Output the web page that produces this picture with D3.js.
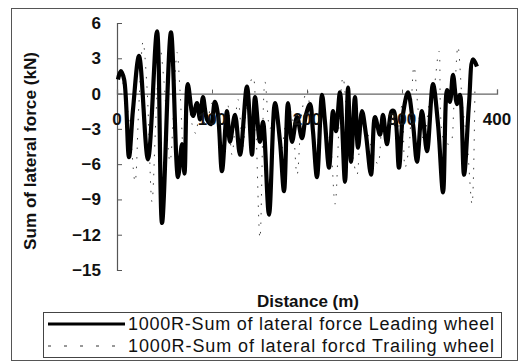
<!DOCTYPE html>
<html>
<head>
<meta charset="utf-8">
<script src="https://cdn.jsdelivr.net/npm/d3@7"></script>
<style>
  body { margin: 0; background: #fff; }
  svg { display: block; }
  text { font-family: "Liberation Sans", Arial, sans-serif; fill: #111; }
</style>
</head>
<body>
<div id="chart"></div>
<script>
// distance (m) and lateral force (kN)
var leadDist = [1, 4, 7.5, 12.6, 16.8, 23.2, 32.6, 42.1, 47.4, 56.8, 64.2, 68.4, 71, 74.5, 80, 84.2, 87.4, 90.5,
  94.7, 98.9, 103, 106.3, 110.5, 115.8, 118.9, 124.2, 129.5, 136.8, 142.1, 145.3, 150.5, 153.7, 160, 166.3,
  171.6, 175.8, 180, 184.2, 189.5, 194.7, 198.9, 203.2, 206.3, 210.5, 215.8, 218.9, 223.2, 227.4, 230.5,
  234.7, 240, 243.2, 246.3, 250.5, 253.7, 257.9, 262.1, 267.4, 271.6, 276.8, 280, 284.2, 289, 291.6, 296.8,
  301, 306.3, 311.6, 315.8, 321, 326.3, 332.6, 337.9, 343.2, 347.4, 350.5, 353.7, 357.9, 361, 365.3, 370.5,
  374.7, 378.9];
var leadForce = [1.2, 1.9, 1.2, -5.4, -1.4, 3.2, -5.6, 5.3, -11, 5.2, -7.1, -4.3, -6.8, 0.8, -1.9, -0.8, -2.2, -0.3,
  -2.2, -2.6, -0.7, -1.8, -6.6, -1.5, -4.1, -1.8, -5.2, 0.6, -5.2, -0.3, -4.1, -2.4, -10.3, -0.8,
  -4.1, -8.3, -0.8, -4.1, -2, -3.8, -1.8, -0.9, -3.2, -7.1, -0.1, -2.4, -6.3, -1.5, -3.2,
  0.1, -7.5, 0.5, -5.8, -0.3, -4.6, -1.5, -3.5, -6.9, -2, -3.5, -1.8, -4.3, -1.5, -1.5, -6.3,
  -1.8, 0.1, -2.6, -5.8, -1.5, -4.9, 0.8, -2.6, -8.4, 0.3, -0.7, 1.6, -0.9, -0.1, -6.9, -0.9,
  2.9, 2.3];

var trailDist = [1, 5, 9.5, 13.7, 19, 23, 27.4, 31.6, 36.8, 41, 45.3, 49.5, 55.8, 63.2, 66.3, 70.5, 74.7, 79, 83,
  87.4, 93.7, 100, 106.3, 111.6, 116.8, 121, 127.4, 132.6, 137.9, 143.2, 146.3, 150.5, 155.8, 161, 167.4,
  172.6, 178.9, 183, 189.5, 194.7, 200, 204.2, 209.5, 214.7, 220, 224.2, 229.5, 234.7, 237.9, 243.2, 247.4,
  252.6, 257.9, 264.2, 269.5, 274.7, 280, 285.3, 289.5, 294.7, 300, 303.2, 307.4, 312.6, 317.9, 323.2, 328.4,
  333.7, 338.9, 344.2, 350.5, 354.7, 358.9, 363.7, 368.4, 373.7, 376.8];
var trailForce = [1.6, 1.2, -0.5, -3, -7.5, -1, 4.4, 0.5, -9.2, -2, 3.9, 1, -5.8, 3.5, 0.3, -5.5, -0.5, -2.6, -3.4,
  -1, -2.8, -0.8, -2.5, -6, -1, -5.2, -0.5, -4.5, 0.2, 1.4, -3, -12.3, 1, -3, -1,
  -5, -2, -1.5, -6.9, -1.5, 0.3, -2.5, -6.3, -1.5, -3, -4, -9.4, -1, 1.4, -3, -5,
  -6.9, -2, -3.5, -5, -6, -2, -3.5, -2, -3.5, -1, -6.3, -4.5, 2.3, -2, -4, -1,
  0.5, 3.6, -4, -4.3, -1, 4, -1, -4, -9.4, 0.8];

var yTicks = [6, 3, 0, -3, -6, -9, -12, -15];
var xTicks = [0, 100, 200, 300, 400];
var seriesNames = ["1000R-Sum of lateral force Leading wheel", "1000R-Sum of lateral forcd Trailing wheel"];

var width = 522, height = 363;
var svg = d3.select('#chart').append('svg')
  .attr('width', width)
  .attr('height', height);

// outer frame
svg.append('rect')
  .attr('x', 11.5).attr('y', 8.5)
  .attr('width', 506).attr('height', 352)
  .attr('fill', 'none')
  .attr('stroke', '#555')
  .attr('stroke-width', 1);

var x = d3.scaleLinear().domain([0, 400]).range([117, 497]);
var y = d3.scaleLinear().domain([-15, 6]).range([270, 23]);

// y axis, ticks pointing inward
var yAxis = svg.append('g')
  .attr('transform', 'translate(' + x(0) + ',0)')
  .call(d3.axisRight(y).tickValues(yTicks).tickSize(5).tickFormat(''));
yAxis.select('.domain').attr('stroke', '#555').attr('stroke-width', 1.2);
yAxis.selectAll('.tick line').attr('stroke', '#555');

svg.append('g').selectAll('text')
  .data(yTicks)
  .enter()
  .append('text')
  .attr('x', 101)
  .attr('y', function (d) { return y(d) + 6; })
  .attr('text-anchor', 'end')
  .attr('font-size', '17px')
  .attr('font-weight', 'bold')
  .text(function (d) { return d < 0 ? '\u2212' + Math.abs(d) : d; });

// x axis on the zero line, ticks pointing up
var xAxis = svg.append('g')
  .attr('transform', 'translate(0,' + y(0) + ')')
  .call(d3.axisTop(x).tickValues(xTicks).tickSize(4).tickFormat(''));
xAxis.select('.domain').attr('stroke', '#666').attr('stroke-width', 1.3);
xAxis.selectAll('.tick line').attr('stroke', '#666');

var line = function (xs, ys, curve) {
  return d3.line()
    .x(function (d, i) { return x(xs[i]); })
    .y(function (d) { return y(d); })
    .curve(curve)(ys);
};

// trailing wheel: thin dashed line
svg.append('path')
  .attr('d', line(trailDist, trailForce, d3.curveCatmullRom))
  .attr('fill', 'none')
  .attr('stroke', '#444')
  .attr('stroke-width', 1)
  .attr('stroke-dasharray', '1.5,8');

// leading wheel: thick solid line
svg.append('path')
  .attr('d', line(leadDist, leadForce, d3.curveCatmullRom))
  .attr('fill', 'none')
  .attr('stroke', '#000')
  .attr('stroke-width', 4.2)
  .attr('stroke-linejoin', 'round');

// x tick labels drawn over the data, below the zero line
svg.append('g').selectAll('text')
  .data(xTicks)
  .enter()
  .append('text')
  .attr('x', function (d) { return x(d); })
  .attr('y', y(0) + 31)
  .attr('text-anchor', 'middle')
  .attr('font-size', '17px')
  .attr('font-weight', 'bold')
  .text(function (d) { return d; });

// axis titles
svg.append('text')
  .attr('transform', 'translate(36,151) rotate(-90)')
  .attr('text-anchor', 'middle')
  .attr('font-size', '17px')
  .attr('font-weight', 'bold')
  .attr('textLength', 198)
  .attr('lengthAdjust', 'spacingAndGlyphs')
  .text('Sum of lateral force (kN)');

svg.append('text')
  .attr('x', 308)
  .attr('y', 307)
  .attr('text-anchor', 'middle')
  .attr('font-size', '17px')
  .attr('font-weight', 'bold')
  .text('Distance (m)');

// legend
var legend = svg.append('g');
legend.append('rect')
  .attr('x', 43.5).attr('y', 312.5)
  .attr('width', 458).attr('height', 45)
  .attr('fill', '#fff')
  .attr('stroke', '#444');

legend.append('line')
  .attr('x1', 48).attr('x2', 125)
  .attr('y1', 324).attr('y2', 324)
  .attr('stroke', '#000').attr('stroke-width', 3);
legend.append('line')
  .attr('x1', 48).attr('x2', 125)
  .attr('y1', 346).attr('y2', 346)
  .attr('stroke', '#333').attr('stroke-width', 1)
  .attr('stroke-dasharray', '3,13');

legend.selectAll('text.lg')
  .data(seriesNames)
  .enter()
  .append('text')
  .attr('class', 'lg')
  .attr('x', 128)
  .attr('y', function (d, i) { return 330 + i * 22; })
  .attr('font-size', '18px')
  .attr('textLength', 366)
  .attr('lengthAdjust', 'spacing')
  .text(function (d) { return d; });
</script>
</body>
</html>
